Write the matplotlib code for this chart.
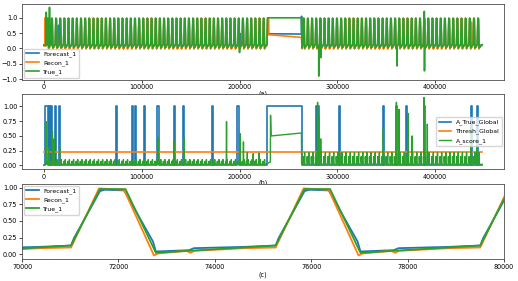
import numpy as np
import matplotlib
matplotlib.use("Agg")
import matplotlib.pyplot as plt

# one cycle of the repeating signal; times are offsets from pulse onset
period = 4245
true_cycle_t = [0, 600, 1130, 1760]
true_cycle_v = [0.13, 0.98, 0.98, 0.02]
forecast_cycle_t = [0, 60, 600, 700, 1100, 1180, 1700, 1760, 2450, 2550, 3600]
forecast_cycle_v = [0.13, 0.24, 0.95, 0.97, 0.96, 0.86, 0.19, 0.04, 0.06, 0.09, 0.11]
recon_cycle_t = [0, 580, 1100, 1720, 1800, 2400, 2480, 2560, 3600]
recon_cycle_v = [0.10, 0.99, 0.97, -0.02, 0.01, 0.05, 0.02, 0.05, 0.09]
score_cycle_t = [0, 120, 350, 1150, 1250, 1450, 1760, 1900, 2300]
score_small_v = [0.02, 0.07, 0.03, 0.02, 0.05, 0.03, 0.10, 0.03, 0.02]
score_large_v = [0.02, 0.15, 0.05, 0.03, 0.09, 0.04, 0.22, 0.05, 0.02]

# regular stretches (first onset, last onset)
span1 = (3097, 223837)
span2 = (264800, 443090)
x_end = 448000

# the long anomaly around 230000-263000
true_block_x = [228082, 228682, 263300, 263900]
true_block_y = [0.13, 1.00, 1.00, 0.02]
forecast_block_x = [228082, 228682, 229500, 229600, 263300, 263400, 263900]
forecast_block_y = [0.13, 0.95, 0.96, 0.48, 0.47, 1.05, 0.04]
recon_block_x = [228082, 228682, 229500, 229600, 263300, 263900]
recon_block_y = [0.10, 0.99, 0.98, 0.45, 0.36, -0.01]
score_block_x = [228082, 231500, 231700, 232300, 263300, 263500]
score_block_y = [0.03, 0.06, 0.85, 0.50, 0.55, 0.02]

# isolated spikes / dips
true_extra_x = [2300, 2400, 2500, 5600, 5700, 5800, 199900, 200000, 200100,
                280900, 281000, 281100, 282900, 283000, 283100,
                360900, 361000, 361100, 388800, 388900, 389000, 389100, 389200]
true_extra_y = [0.10, 1.18, 0.10, 0.08, 1.34, 0.08, 0.08, -0.13, 0.08,
                0.08, -0.90, 0.08, 0.08, -0.30, 0.08,
                0.08, -0.57, 0.08, 0.08, 1.21, 0.10, -0.73, 0.08]
forecast_extra_x = [7900, 8000, 8300, 8400, 14900, 15000, 15300, 15400,
                    199800, 200000, 200300, 200500]
forecast_extra_y = [0.10, 0.75, 0.75, 0.10, 0.10, 0.75, 0.75, 0.10,
                    0.10, 0.49, 0.49, 0.10]
recon_extra_x = [1200, 1300, 1400, 186900, 187000, 187100, 436900, 437000, 437100]
recon_extra_y = [0.09, 1.00, 0.09, 0.05, 0.88, 0.05, 0.05, 0.86, 0.05]
score_spike_x = [2400, 5500, 8700, 10500, 16000, 116500, 133000, 143300, 186700,
                 200500, 204000, 208000, 214000, 220000, 279800, 281000, 283000,
                 302000, 347000, 360400, 363000, 372500, 376500, 388600, 392000,
                 436600, 443000]
score_spike_h = [0.74, 0.30, 0.58, 0.45, 0.34, 0.48, 0.41, 0.47, 0.74,
                 0.54, 0.40, 0.22, 0.20, 0.21, 1.07, 0.85, 0.45,
                 0.25, 0.62, 1.07, 0.95, 0.88, 0.50, 1.15, 0.70,
                 0.68, 0.45]

# A_True_Global intervals equal to 1
anom_start = [1600, 5100, 7200, 11300, 15400, 73300, 90400, 92700, 102800, 115800,
              132600, 142100, 171800, 197300, 228000, 277700, 280000, 301400,
              346300, 359800, 370700, 388800, 436300, 442600]
anom_end = [3700, 6200, 8500, 12600, 16700, 74700, 91500, 93800, 103800, 117400,
            133600, 143100, 172800, 199200, 263700, 278700, 281000, 302400,
            347300, 360800, 371700, 389800, 438000, 443600]
thresh = 0.22


def build(head_y, cyc_t, cyc_v1, cyc_v2, blk_x, blk_y, ex_x, ex_y, tail_y):
    xs, ys = [0], [head_y]
    for s in np.arange(span1[0], span1[1] + 1, period):
        xs += [s + t for t in cyc_t]
        ys += list(cyc_v1)
    xs += blk_x
    ys += blk_y
    for s in np.arange(span2[0], span2[1] + 1, period):
        xs += [s + t for t in cyc_t]
        ys += list(cyc_v2)
    xs += list(ex_x) + [x_end]
    ys += list(ex_y) + [tail_y]
    order = np.argsort(xs, kind="stable")
    return np.array(xs)[order], np.array(ys)[order]


t_x, t_y = build(0.10, true_cycle_t, true_cycle_v, true_cycle_v,
                 true_block_x, true_block_y, true_extra_x, true_extra_y, 0.12)
f_x, f_y = build(0.12, forecast_cycle_t, forecast_cycle_v, forecast_cycle_v,
                 forecast_block_x, forecast_block_y, forecast_extra_x, forecast_extra_y, 0.12)
r_x, r_y = build(0.09, recon_cycle_t, recon_cycle_v, recon_cycle_v,
                 recon_block_x, recon_block_y, recon_extra_x, recon_extra_y, 0.10)
sp_x, sp_y = [], []
for x, h in zip(score_spike_x, score_spike_h):
    sp_x += [x - 150, x, x + 150]
    sp_y += [0.03, h, 0.03]
s_x, s_y = build(0.0, score_cycle_t, score_small_v, score_large_v,
                 score_block_x, score_block_y, sp_x, sp_y, 0.02)

g_x, g_y = [0], [0]
for a, b in zip(anom_start, anom_end):
    g_x += [a, a, b, b]
    g_y += [0, 1, 1, 0]
g_x.append(x_end)
g_y.append(0)

fs = 4.7
fig = plt.figure(figsize=(5.18, 2.81), dpi=100)
ax1 = fig.add_axes([0.0425, 0.717, 0.9305, 0.269])
ax2 = fig.add_axes([0.0425, 0.399, 0.9305, 0.266])
ax3 = fig.add_axes([0.0425, 0.079, 0.9305, 0.267])

lw = 1.2
ax1.plot(f_x, f_y, lw=lw, label="Forecast_1")
ax1.plot(r_x, r_y, lw=lw, label="Recon_1")
ax1.plot(t_x, t_y, lw=lw, label="True_1")
ax1.set_yticks([-1.0, -0.5, 0.0, 0.5, 1.0])
ax1.set_xlabel("(a)", fontsize=fs, labelpad=0)
ax1.legend(loc="lower left", fontsize=4.4, borderaxespad=0.3)

ax2.plot(g_x, g_y, lw=lw, label="A_True_Global")
ax2.plot([0, x_end], [thresh, thresh], lw=lw, label="Thresh_Global")
ax2.plot(s_x, s_y, lw=1.0, label="A_score_1")
ax2.set_yticks([0.0, 0.25, 0.5, 0.75, 1.0])
ax2.set_xlabel("(b)", fontsize=fs, labelpad=0)
ax2.legend(loc="center right", fontsize=4.4, borderaxespad=0.3)

for ax in (ax1, ax2):
    ax.set_xticks([0, 100000, 200000, 300000, 400000])

ax3.plot(f_x, f_y, lw=1.3, label="Forecast_1")
ax3.plot(r_x, r_y, lw=1.3, label="Recon_1")
ax3.plot(t_x, t_y, lw=1.3, label="True_1")
ax3.set_xlim(70000, 80000)
ax3.set_ylim(-0.07, 1.06)
ax3.set_xlabel("(c)", fontsize=fs, labelpad=1)
ax3.legend(loc="upper left", fontsize=4.4, borderaxespad=0.3)

for ax in (ax1, ax2, ax3):
    ax.tick_params(labelsize=fs, length=2, width=0.5, pad=1.5)
    for sp in ax.spines.values():
        sp.set_linewidth(0.6)
        sp.set_color("0.3")

fig.savefig("out.png", dpi=100)
